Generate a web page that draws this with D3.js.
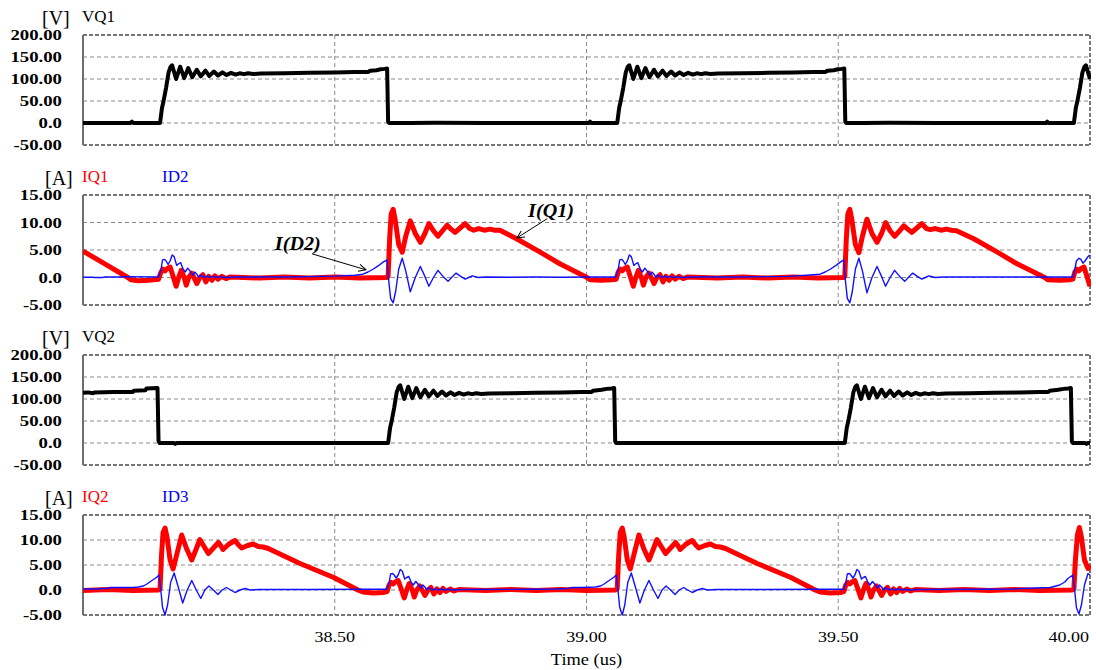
<!DOCTYPE html>
<html><head><meta charset="utf-8">
<script src="https://cdn.jsdelivr.net/npm/d3@7"></script>
<style>body{margin:0;background:#fff;} svg{display:block;}</style>
</head><body><svg id="c" width="1096" height="670"></svg>
<script>
// ---------- data ----------
const timeDomain = [38.0, 40.0];
const xTicks = [38.5, 39.0, 39.5, 40.0];
const xTickLabels = ["38.50", "39.00", "39.50", "40.00"];
const vTicks = [200, 150, 100, 50, 0, -50];
const vTickLabels = ["200.00", "150.00", "100.00", "50.00", "0.0", "-50.00"];
const iTicks = [15, 10, 5, 0, -5];
const iTickLabels = ["15.00", "10.00", "5.00", "0.0", "-5.00"];
const xTitle = "Time (us)";

// VQ1 [time us, volts]
const vq1 = [[38.000,0],[38.060,0],[38.094,0],[38.097,3],[38.100,0],[38.153,0],
[38.157,35],[38.160,50],[38.165,80],[38.170,115],[38.174,128],[38.177,131],[38.185,100],[38.193,128],[38.201,102],[38.209,125],[38.217,104],[38.226,121],[38.234,106],[38.243,119],[38.251,107],[38.260,117],[38.268,108],[38.277,115],[38.285,109],[38.294,114],[38.303,110],[38.311,113],[38.320,111],[38.328,113],[38.338,111.5],[38.353,112.5],[38.40,113],[38.45,114],[38.50,115],[38.54,116],[38.566,116],[38.571,119],[38.583,120],[38.591,122],[38.599,123],[38.604,124],[38.606,3],[38.608,0],
[38.65,0],[38.70,0.5],[38.80,0],[39.005,0],[39.007,3],[39.009,0],[39.061,0],
[39.065,35],[39.068,50],[39.073,80],[39.078,115],[39.082,128],[39.085,131],[39.093,100],[39.101,128],[39.109,102],[39.117,125],[39.125,104],[39.134,121],[39.142,106],[39.151,119],[39.159,107],[39.168,117],[39.176,108],[39.185,115],[39.193,109],[39.202,114],[39.211,110],[39.219,113],[39.228,111],[39.236,113],[39.246,111.5],[39.261,112.5],[39.31,113],[39.36,114],[39.41,115],[39.45,116],[39.474,116],[39.479,119],[39.491,120],[39.499,122],[39.507,123],[39.512,124],[39.514,3],[39.516,0],
[39.55,0],[39.60,0.5],[39.70,0],[39.85,0],[39.913,0],[39.915,3],[39.917,0],[39.968,0],
[39.972,35],[39.975,50],[39.980,80],[39.985,115],[39.989,128],[39.992,131],[40.000,100]];

// VQ2 [time us, volts]
const vq2 = [[38.000,114],[38.010,115],[38.020,113],[38.022,115],[38.06,116],[38.099,116],[38.101,119],[38.124,120],[38.126,124],[38.148,125],[38.150,5],[38.152,0],[38.180,0],[38.183,-2],[38.186,0],[38.606,0],
[38.610,35],[38.613,50],[38.618,80],[38.623,115],[38.627,128],[38.630,131],[38.638,100],[38.646,128],[38.654,102],[38.662,125],[38.670,104],[38.679,121],[38.687,106],[38.696,119],[38.704,107],[38.713,117],[38.721,108],[38.730,115],[38.738,109],[38.747,114],[38.756,110],[38.764,113],[38.773,111],[38.781,113],[38.791,111.5],[38.806,112.5],[38.85,113],[38.90,114],[38.95,115],[38.99,116],[39.010,116],[39.013,119],[39.030,121],[39.040,123],[39.050,124],[39.055,125],[39.057,4],[39.059,0],
[39.10,0],[39.20,0],[39.513,0],
[39.517,35],[39.520,50],[39.525,80],[39.530,115],[39.534,128],[39.537,131],[39.545,100],[39.553,128],[39.561,102],[39.569,125],[39.577,104],[39.586,121],[39.594,106],[39.603,119],[39.611,107],[39.620,117],[39.628,108],[39.637,115],[39.645,109],[39.654,114],[39.663,110],[39.671,113],[39.680,111],[39.688,113],[39.698,111.5],[39.713,112.5],[39.76,113],[39.81,114],[39.86,115],[39.90,116],[39.917,116],[39.920,119],[39.937,121],[39.947,123],[39.957,124],[39.962,125],[39.964,4],[39.966,0],[39.990,0],[39.993,-2],[39.996,0],[40.000,0]];

// IQ1 [time us, amps]
const iq1 = [[38.000,4.8],[38.045,2.4],[38.089,0],[38.095,-0.4],[38.110,-0.6],[38.130,-0.5],[38.150,-0.3],
[38.155,1.0],[38.159,1.5],[38.163,1.2],[38.167,1.6],[38.173,1.9],[38.179,0.2],[38.185,-1.6],[38.190,0],[38.195,1.3],[38.201,0],[38.205,-1.4],[38.210,0],[38.216,0.8],[38.222,-0.3],[38.226,-1.1],[38.232,0],[38.238,0.5],[38.244,-0.8],[38.250,0.2],[38.256,-0.5],[38.262,0.3],[38.268,-0.3],[38.276,0.2],[38.284,-0.2],[38.293,0.1],[38.35,-0.1],[38.40,0.1],[38.45,-0.1],[38.50,0.1],[38.55,-0.1],[38.604,0],
[38.606,0.2],[38.609,7],[38.612,11.5],[38.616,12.4],[38.620,10.5],[38.627,6.0],[38.634,4.6],[38.641,7.5],[38.650,10.3],[38.660,8.0],[38.670,6.4],[38.679,8.0],[38.687,9.8],[38.696,8.5],[38.705,7.5],[38.714,8.5],[38.723,9.5],[38.731,8.8],[38.739,8.2],[38.749,9.0],[38.759,9.8],[38.768,8.9],[38.776,8.6],[38.786,8.9],[38.797,8.6],[38.808,8.8],[38.818,8.6],[38.828,8.6],
[38.862,7.0],[38.908,4.6],[38.947,2.5],[39.001,0],[39.007,-0.4],[39.030,-0.5],[39.050,-0.4],[39.059,-0.3],
[39.063,1.0],[39.067,1.5],[39.071,1.2],[39.075,1.6],[39.081,1.9],[39.087,0.2],[39.093,-1.6],[39.098,0],[39.103,1.3],[39.109,0],[39.113,-1.4],[39.118,0],[39.124,0.8],[39.130,-0.3],[39.134,-1.1],[39.140,0],[39.146,0.5],[39.152,-0.8],[39.158,0.2],[39.164,-0.5],[39.170,0.3],[39.176,-0.3],[39.184,0.2],[39.192,-0.2],[39.201,0.1],[39.26,-0.1],[39.31,0.1],[39.36,-0.1],[39.41,0.1],[39.46,-0.1],[39.511,0],
[39.513,0.2],[39.516,7],[39.519,11.5],[39.523,12.4],[39.527,10.5],[39.534,6.0],[39.541,4.5],[39.548,7.5],[39.557,10.6],[39.567,8.0],[39.577,6.4],[39.586,8.0],[39.594,10.0],[39.603,8.5],[39.612,7.5],[39.621,8.4],[39.630,9.4],[39.638,8.8],[39.646,8.2],[39.656,9.0],[39.666,9.8],[39.675,8.9],[39.683,8.7],[39.693,8.9],[39.704,8.6],[39.715,8.8],[39.725,8.6],[39.735,8.5],
[39.770,7.0],[39.816,4.6],[39.855,2.5],[39.910,0],[39.916,-0.4],[39.940,-0.5],[39.960,-0.4],[39.966,-0.3],
[39.970,1.0],[39.974,1.5],[39.978,1.2],[39.982,1.6],[39.988,1.9],[39.994,0.2],[40.000,-1.6]];

// ID2 [time us, amps]
const id2 = [[38.000,0.05],[38.020,0.05],[38.022,0],[38.040,0],[38.042,0.1],[38.080,0.1],[38.082,0.15],[38.150,0.1],
[38.155,1.5],[38.158,3.2],[38.162,3.3],[38.165,3.0],[38.169,2.4],[38.173,3.0],[38.177,4.1],[38.181,3.8],[38.186,2.2],[38.190,2.5],[38.194,2.7],[38.199,1.5],[38.203,1.0],[38.208,1.7],[38.213,1.1],[38.218,0.4],[38.222,1.0],[38.226,0.6],[38.230,0],[38.234,0.5],[38.238,0.2],[38.243,0],[38.247,0.3],[38.252,0],[38.258,0.2],[38.265,0],[38.272,0.15],[38.280,0],[38.300,0.1],[38.40,0.1],[38.45,0.15],[38.50,0.25],[38.510,0.3],[38.540,0.4],[38.556,0.6],[38.566,1.0],[38.576,1.5],[38.586,2.1],[38.596,2.8],[38.604,3.2],
[38.606,0.5],[38.611,-3.8],[38.616,-4.6],[38.621,-2.5],[38.627,1.5],[38.634,3.5],[38.641,1.2],[38.650,-2.6],[38.660,0],[38.670,2.0],[38.679,0.2],[38.687,-1.6],[38.696,0],[38.705,1.3],[38.715,0.2],[38.725,-0.7],[38.733,0.1],[38.741,0.8],[38.750,0.2],[38.759,-0.3],[38.766,0],[38.773,0.3],[38.785,0],[38.80,0.1],[38.85,0.05],[38.90,0.1],[38.95,0.05],[39.00,0.1],[39.058,0.1],
[39.063,1.5],[39.066,3.2],[39.070,3.3],[39.073,3.0],[39.077,2.4],[39.081,3.0],[39.085,4.1],[39.089,3.8],[39.094,2.2],[39.098,2.5],[39.102,2.7],[39.107,1.5],[39.111,1.0],[39.116,1.7],[39.121,1.1],[39.126,0.4],[39.130,1.0],[39.134,0.6],[39.138,0],[39.142,0.5],[39.146,0.2],[39.151,0],[39.155,0.3],[39.160,0],[39.166,0.2],[39.173,0],[39.180,0.15],[39.188,0],[39.208,0.1],[39.30,0.1],[39.35,0.15],[39.40,0.2],[39.418,0.3],[39.45,0.5],[39.464,0.6],[39.474,1.0],[39.484,1.5],[39.494,2.1],[39.504,2.8],[39.511,3.2],
[39.513,0.5],[39.518,-3.8],[39.523,-4.6],[39.528,-2.5],[39.534,1.5],[39.541,3.5],[39.548,1.2],[39.557,-2.8],[39.567,0],[39.577,2.0],[39.586,0.2],[39.594,-1.6],[39.603,0],[39.612,1.3],[39.622,0.2],[39.632,-0.7],[39.640,0.1],[39.648,0.8],[39.657,0.2],[39.666,-0.3],[39.673,0],[39.680,0.3],[39.692,0],[39.71,0.1],[39.80,0.1],[39.90,0.1],[39.966,0.1],
[39.970,1.5],[39.973,3.0],[39.978,3.5],[39.982,3.3],[39.986,2.6],[39.990,3.0],[39.996,3.8],[40.000,4.1]];

// IQ2 [time us, amps]
const iq2 = [[38.000,-0.1],[38.05,0.1],[38.10,-0.1],[38.150,0],
[38.153,0.2],[38.156,7],[38.159,11.5],[38.163,12.4],[38.167,10.5],[38.173,6.0],[38.179,4.2],[38.186,7.0],[38.196,11.0],[38.206,8.2],[38.216,6.0],[38.224,8.0],[38.232,10.1],[38.241,8.6],[38.249,7.3],[38.259,8.4],[38.269,9.5],[38.274,8.8],[38.278,8.1],[38.290,9.2],[38.302,9.9],[38.309,9.0],[38.315,8.4],[38.327,8.9],[38.338,9.2],[38.348,8.7],[38.358,8.6],[38.368,8.3],
[38.431,5.3],[38.498,2.5],[38.546,0],[38.556,-0.4],[38.576,-0.6],[38.596,-0.5],[38.604,-0.3],
[38.608,1.0],[38.612,1.5],[38.616,1.2],[38.620,1.6],[38.626,1.9],[38.632,0.2],[38.638,-1.6],[38.643,0],[38.648,1.3],[38.654,0],[38.658,-1.4],[38.663,0],[38.669,0.8],[38.675,-0.3],[38.679,-1.1],[38.685,0],[38.691,0.5],[38.697,-0.8],[38.703,0.2],[38.709,-0.5],[38.715,0.3],[38.721,-0.3],[38.729,0.2],[38.737,-0.2],[38.746,0.1],[38.80,-0.1],[38.85,0.1],[38.90,-0.1],[38.95,0.1],[39.00,-0.1],[39.058,0],
[39.061,0.2],[39.064,7],[39.067,11.5],[39.071,12.4],[39.075,10.5],[39.081,6.0],[39.087,4.2],[39.094,7.0],[39.104,11.0],[39.114,8.2],[39.124,6.0],[39.132,8.0],[39.140,10.1],[39.149,8.6],[39.157,7.3],[39.167,8.4],[39.177,9.5],[39.182,8.8],[39.186,8.1],[39.198,9.2],[39.210,9.9],[39.217,9.0],[39.223,8.4],[39.235,8.9],[39.246,9.2],[39.256,8.7],[39.266,8.6],[39.276,8.3],
[39.339,5.3],[39.406,2.5],[39.454,0],[39.464,-0.4],[39.484,-0.6],[39.504,-0.5],[39.511,-0.3],
[39.515,1.0],[39.519,1.5],[39.523,1.2],[39.527,1.6],[39.533,1.9],[39.539,0.2],[39.545,-1.6],[39.550,0],[39.555,1.3],[39.561,0],[39.565,-1.4],[39.570,0],[39.576,0.8],[39.582,-0.3],[39.586,-1.1],[39.592,0],[39.598,0.5],[39.604,-0.8],[39.610,0.2],[39.616,-0.5],[39.622,0.3],[39.628,-0.3],[39.636,0.2],[39.644,-0.2],[39.653,0.1],[39.70,-0.1],[39.75,0.1],[39.80,-0.1],[39.85,0.1],[39.90,-0.1],[39.965,0],
[39.968,0.2],[39.971,6],[39.975,11],[39.979,12.5],[39.983,10.5],[39.989,6.0],[39.996,4.3],[40.000,5.0]];

// ID3 [time us, amps]
const id3 = [[38.000,0.2],[38.030,0.2],[38.032,0.3],[38.050,0.3],[38.054,0.5],[38.100,0.5],[38.110,0.6],[38.120,0.8],[38.127,1.2],[38.134,1.7],[38.140,2.1],[38.147,2.6],[38.151,3.0],
[38.154,0.5],[38.158,-3.5],[38.163,-5.0],[38.168,-3.0],[38.174,1.5],[38.181,3.4],[38.188,1.0],[38.198,-2.6],[38.207,0],[38.216,1.9],[38.225,0],[38.234,-1.7],[38.242,0],[38.250,0.8],[38.259,0],[38.268,-0.9],[38.276,0],[38.285,0.5],[38.293,0],[38.302,-0.5],[38.312,0],[38.322,0.3],[38.332,0],[38.350,0.1],[38.45,0.1],[38.55,0.15],[38.603,0.15],
[38.608,1.5],[38.611,3.2],[38.615,3.3],[38.618,3.0],[38.622,2.4],[38.626,3.0],[38.630,4.1],[38.634,3.8],[38.639,2.2],[38.643,2.5],[38.647,2.7],[38.652,1.5],[38.656,1.0],[38.661,1.7],[38.666,1.1],[38.671,0.4],[38.675,1.0],[38.679,0.6],[38.683,0],[38.687,0.5],[38.691,0.2],[38.696,0],[38.700,0.3],[38.705,0],[38.711,0.2],[38.718,0],[38.725,0.15],[38.733,0],[38.753,0.1],[38.90,0.15],[38.938,0.2],[38.962,0.3],[38.972,0.5],[38.990,0.5],[39.018,0.6],[39.028,0.8],[39.035,1.2],[39.042,1.7],[39.048,2.1],[39.055,2.6],[39.059,3.0],
[39.062,0.5],[39.066,-3.5],[39.071,-5.0],[39.076,-3.0],[39.082,1.5],[39.089,3.4],[39.096,1.0],[39.106,-2.6],[39.115,0],[39.124,1.9],[39.133,0],[39.142,-1.7],[39.150,0],[39.158,0.8],[39.167,0],[39.176,-0.9],[39.184,0],[39.193,0.5],[39.201,0],[39.210,-0.5],[39.220,0],[39.230,0.3],[39.240,0],[39.258,0.1],[39.36,0.1],[39.46,0.15],[39.511,0.15],
[39.515,1.5],[39.518,3.2],[39.522,3.3],[39.525,3.0],[39.529,2.4],[39.533,3.0],[39.537,4.1],[39.541,3.8],[39.546,2.2],[39.550,2.5],[39.554,2.7],[39.559,1.5],[39.563,1.0],[39.568,1.7],[39.573,1.1],[39.578,0.4],[39.582,1.0],[39.586,0.6],[39.590,0],[39.594,0.5],[39.598,0.2],[39.603,0],[39.607,0.3],[39.612,0],[39.618,0.2],[39.625,0],[39.632,0.15],[39.640,0],[39.660,0.1],[39.80,0.15],[39.846,0.2],[39.870,0.3],[39.890,0.4],[39.921,0.5],[39.940,1.0],[39.950,1.6],[39.956,2.3],[39.966,3.0],
[39.969,0.5],[39.973,-3.5],[39.978,-4.8],[39.983,-3.0],[39.989,1.0],[39.996,3.3],[40.000,3.0]];

// annotation texts and where they point (time us, amps in panel 2)
const annotations = [
  {text:"I(D2)", t:38.381, v:5.0, fromT:38.455, fromV:4.3, toT:38.562, toV:1.4},
  {text:"I(Q1)", t:38.884, v:11.0, fromT:38.922, fromV:10.7, toT:38.862, toV:7.2}
];

// ---------- drawing ----------
const svg = d3.select("#c");
const serif = "'Liberation Serif','Times New Roman',serif";
const X0 = 83, X1 = 1090;
const x = d3.scaleLinear().domain(timeDomain).range([X0, X1]);

function stext(g, px, py, str, o) {
  return g.append("text")
    .attr("transform", `translate(${px},${py}) scale(${o.sx || 1},1)`)
    .attr("font-family", serif)
    .attr("font-size", o.size || 15)
    .attr("font-weight", o.weight || "normal")
    .attr("font-style", o.style || "normal")
    .attr("fill", o.fill || "#000")
    .attr("text-anchor", o.anchor || "start")
    .text(str);
}

const panels = [
  {top:35, bottom:145, domain:[-50,200], ticks:vTicks, labels:vTickLabels, unit:"[V]",
   names:[["VQ1","#000"]], series:[[vq1,"#000",4]]},
  {top:195, bottom:305, domain:[-5,15], ticks:iTicks, labels:iTickLabels, unit:"[A]",
   names:[["IQ1","#ff0000"],["ID2","#0000ff"]], series:[[iq1,"#ff0000",5],[id2,"#1010ff",1.4]]},
  {top:355, bottom:465, domain:[-50,200], ticks:vTicks, labels:vTickLabels, unit:"[V]",
   names:[["VQ2","#000"]], series:[[vq2,"#000",4]]},
  {top:515, bottom:615, domain:[-5,15], ticks:iTicks, labels:iTickLabels, unit:"[A]",
   names:[["IQ2","#ff0000"],["ID3","#0000ff"]], series:[[iq2,"#ff0000",5],[id3,"#1010ff",1.4]]}
];

const defs = svg.append("defs");
defs.append("marker").attr("id","arr").attr("viewBox","0 0 10 10").attr("refX",9).attr("refY",5)
  .attr("markerWidth",9).attr("markerHeight",9).attr("orient","auto").attr("markerUnits","userSpaceOnUse")
  .append("path").attr("d","M1,1 L9,5 L1,9").attr("fill","none").attr("stroke","#000").attr("stroke-width",1.1);

panels.forEach((p, i) => {
  const y = d3.scaleLinear().domain(p.domain).range([p.bottom, p.top]);
  p.y = y;
  const g = svg.append("g");
  defs.append("clipPath").attr("id","clip"+i).append("rect")
    .attr("x", X0).attr("y", p.top - 8).attr("width", X1 - X0 + 1).attr("height", p.bottom - p.top + 16);

  // horizontal grid (inner)
  p.ticks.filter(v => v !== p.domain[0] && v !== p.domain[1]).forEach(v => {
    g.append("line").attr("x1", X0).attr("x2", X1).attr("y1", y(v)).attr("y2", y(v))
      .attr("stroke", "#8a8a8a").attr("stroke-width", 1).attr("stroke-dasharray", "4,3");
  });
  // vertical grid
  xTicks.filter(t => t < timeDomain[1]).forEach(t => {
    g.append("line").attr("x1", x(t)).attr("x2", x(t)).attr("y1", p.top).attr("y2", p.bottom)
      .attr("stroke", "#8a8a8a").attr("stroke-width", 1).attr("stroke-dasharray", "4,3");
  });
  // border top/bottom/right
  [[X0, p.top, X1, p.top], [X0, p.bottom, X1, p.bottom], [X1, p.top, X1, p.bottom]].forEach(s => {
    g.append("line").attr("x1", s[0]).attr("y1", s[1]).attr("x2", s[2]).attr("y2", s[3])
      .attr("stroke", "#4a4a4a").attr("stroke-width", 1.5).attr("stroke-dasharray", "4,2");
  });
  // left axis
  g.append("line").attr("x1", X0).attr("x2", X0).attr("y1", p.top).attr("y2", p.bottom)
    .attr("stroke", "#6e6e6e").attr("stroke-width", 2);

  // tick labels
  p.ticks.forEach((v, k) => {
    stext(g, 62, y(v) + 5, p.labels[k], {size:15, weight:"bold", sx:1.25, anchor:"end"});
  });

  // header
  stext(g, p.unit === "[V]" ? 42 : 45, p.top - 10, p.unit, {size:20, sx:1.0});
  p.names.forEach((n, k) => {
    stext(g, k === 0 ? 82 : 162, p.top - 13, n[0], {size:17, fill:n[1]});
  });

  // series
  const line = d3.line().x(d => x(d[0])).y(d => y(d[1]));
  const sg = g.append("g").attr("clip-path", `url(#clip${i})`);
  p.series.forEach(s => {
    sg.append("path").datum(s[0]).attr("d", line).attr("fill", "none")
      .attr("stroke", s[1]).attr("stroke-width", s[2])
      .attr("stroke-linejoin", "round").attr("stroke-linecap", "butt");
  });
});

// x tick labels
const last = panels[panels.length - 1];
xTicks.forEach((t, k) => {
  const end = t === timeDomain[1];
  stext(svg, end ? X1 - 1 : x(t), 642, xTickLabels[k], {size:15, sx:1.2, anchor: end ? "end" : "middle"});
});
stext(svg, x(39.0), 665, xTitle, {size:16, sx:1.15, anchor:"middle"});

// annotations (panel 2)
const ap = panels[1];
annotations.forEach(a => {
  stext(svg, x(a.t), ap.y(a.v), a.text, {size:18, weight:"bold", style:"italic", sx:1.12});
  svg.append("line").attr("x1", x(a.fromT)).attr("y1", ap.y(a.fromV))
    .attr("x2", x(a.toT)).attr("y2", ap.y(a.toV))
    .attr("stroke", "#000").attr("stroke-width", 1).attr("marker-end", "url(#arr)");
});
</script></body></html>
